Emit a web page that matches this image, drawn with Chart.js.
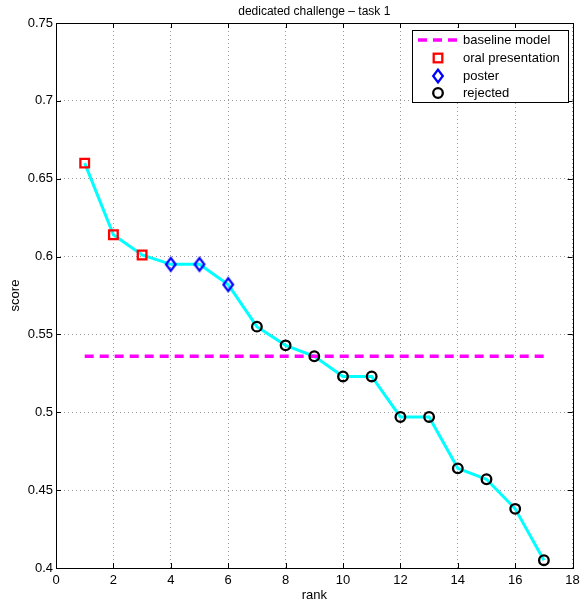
<!DOCTYPE html>
<html>
<head>
<meta charset="utf-8">
<script src="https://cdn.jsdelivr.net/npm/chart.js@4"></script>
<style>
  html, body { margin: 0; padding: 0; background: #fff; }
  canvas { display: block; }
</style>
</head>
<body>
<canvas id="rankChart" width="581" height="603"></canvas>
<script>
// values
const ranks = [1, 2, 3, 4, 5, 6, 7, 8, 9, 10, 11, 12, 13, 14, 15, 16, 17];
const scores = [0.660, 0.614, 0.601, 0.595, 0.595, 0.582, 0.555, 0.543, 0.536,
                0.523, 0.523, 0.497, 0.497, 0.464, 0.457, 0.438, 0.405];
const baselineScore = 0.536;
const oralRanks = [1, 2, 3];
const posterRanks = [4, 5, 6];
const rejectedRanks = [7, 8, 9, 10, 11, 12, 13, 14, 15, 16, 17];
const xTicks = [0, 2, 4, 6, 8, 10, 12, 14, 16, 18];
const yTicks = [0.4, 0.45, 0.5, 0.55, 0.6, 0.65, 0.7, 0.75];
const legendLabels = ['baseline model', 'oral presentation', 'poster', 'rejected'];

const FONT = '"Liberation Sans", Arial, Helvetica, sans-serif';

function pointsFor(list) {
  return list.map(r => ({ x: r, y: scores[ranks.indexOf(r)] }));
}

// matlab style diamond (a bit taller than wide)
function makeDiamond() {
  const c = document.createElement('canvas');
  c.width = 16;
  c.height = 20;
  const g = c.getContext('2d');
  g.strokeStyle = '#0000ff';
  g.lineWidth = 2.3;
  g.beginPath();
  g.moveTo(8, 3.6);
  g.lineTo(12.8, 10);
  g.lineTo(8, 16.4);
  g.lineTo(3.2, 10);
  g.closePath();
  g.stroke();
  return c;
}
const diamond = makeDiamond();

// box round the plot with inward tick marks
const axesBox = {
  id: 'axesBox',
  afterDatasetsDraw(chart) {
    const { ctx, chartArea: a, scales: { x, y } } = chart;
    ctx.save();
    ctx.strokeStyle = '#000';
    ctx.lineWidth = 1;
    ctx.beginPath();
    xTicks.forEach(v => {
      const px = Math.round(x.getPixelForValue(v)) + 0.5;
      ctx.moveTo(px, a.bottom); ctx.lineTo(px, a.bottom - 5);
      ctx.moveTo(px, a.top); ctx.lineTo(px, a.top + 5);
    });
    yTicks.forEach(v => {
      const py = Math.round(y.getPixelForValue(v)) + 0.5;
      ctx.moveTo(a.left, py); ctx.lineTo(a.left + 5, py);
      ctx.moveTo(a.right, py); ctx.lineTo(a.right - 5, py);
    });
    ctx.stroke();
    ctx.strokeRect(Math.round(a.left) + 0.5, Math.round(a.top) + 0.5,
                   Math.round(a.right - a.left), Math.round(a.bottom - a.top));
    ctx.restore();
  }
};

// legend box inside the top right corner
const legendBox = {
  id: 'legendBox',
  afterDraw(chart) {
    const { ctx, chartArea: a } = chart;
    const x0 = Math.round(a.right) - 161, y0 = Math.round(a.top) + 7;
    const w = 156, h = 72;
    ctx.save();
    ctx.fillStyle = '#fff';
    ctx.fillRect(x0, y0, w, h);
    ctx.strokeStyle = '#000';
    ctx.lineWidth = 1;
    ctx.strokeRect(x0 + 0.5, y0 + 0.5, w, h);

    const rows = [10, 28, 46, 63].map(d => y0 + d);
    const mx = x0 + 26;

    // baseline
    ctx.strokeStyle = '#ff00ff';
    ctx.lineWidth = 3.5;
    ctx.setLineDash([9, 6]);
    ctx.beginPath();
    ctx.moveTo(x0 + 6, rows[0]);
    ctx.lineTo(x0 + 48, rows[0]);
    ctx.stroke();
    ctx.setLineDash([]);

    // square
    ctx.strokeStyle = '#ff0000';
    ctx.lineWidth = 2.3;
    ctx.strokeRect(mx - 4.3, rows[1] - 4.3, 8.6, 8.6);

    // diamond
    ctx.drawImage(diamond, mx - 8, rows[2] - 10);

    // circle
    ctx.strokeStyle = '#000';
    ctx.beginPath();
    ctx.arc(mx, rows[3], 4.8, 0, Math.PI * 2);
    ctx.stroke();

    ctx.fillStyle = '#000';
    ctx.font = '13px ' + FONT;
    ctx.textBaseline = 'middle';
    legendLabels.forEach((t, i) => ctx.fillText(t, x0 + 51, rows[i]));
    ctx.restore();
  }
};

const ctx = document.getElementById('rankChart').getContext('2d');
new Chart(ctx, {
  type: 'scatter',
  data: {
    datasets: [
      {
        label: 'ranking',
        data: ranks.map((r, i) => ({ x: r, y: scores[i] })),
        showLine: true,
        borderColor: '#00ffff',
        borderWidth: 3,
        pointRadius: 0,
        order: 3
      },
      {
        label: legendLabels[0],
        data: [{ x: ranks[0], y: baselineScore }, { x: ranks[ranks.length - 1], y: baselineScore }],
        showLine: true,
        borderColor: '#ff00ff',
        borderWidth: 3.5,
        borderDash: [9, 6],
        pointRadius: 0,
        order: 2
      },
      {
        label: legendLabels[1],
        data: pointsFor(oralRanks),
        pointStyle: 'rect',
        pointRadius: 6.1,
        pointBorderWidth: 2.3,
        pointBorderColor: '#ff0000',
        pointBackgroundColor: 'rgba(0,0,0,0)',
        order: 1
      },
      {
        label: legendLabels[2],
        data: pointsFor(posterRanks),
        pointStyle: diamond,
        order: 1
      },
      {
        label: legendLabels[3],
        data: pointsFor(rejectedRanks),
        pointStyle: 'circle',
        pointRadius: 4.8,
        pointBorderWidth: 2.3,
        pointBorderColor: '#000000',
        pointBackgroundColor: 'rgba(0,0,0,0)',
        order: 1
      }
    ]
  },
  options: {
    responsive: false,
    animation: false,
    events: [],
    devicePixelRatio: 1,
    layout: { padding: { right: 8 } },
    plugins: {
      legend: { display: false },
      tooltip: { enabled: false },
      title: {
        display: true,
        fullSize: false,
        text: 'dedicated challenge \u2013 task 1',
        color: '#000',
        font: { family: FONT, size: 12, weight: 'normal' },
        padding: { top: 4, bottom: 4.6 }
      }
    },
    scales: {
      x: {
        type: 'linear',
        min: 0,
        max: 18,
        afterBuildTicks: s => { s.ticks = xTicks.map(v => ({ value: v })); },
        afterFit: s => { s.height = 35; s.paddingLeft = 0; s.paddingRight = 0; },
        ticks: {
          autoSkip: false,
          maxRotation: 0,
          padding: 5,
          color: '#000',
          font: { family: FONT, size: 13 },
          callback: v => String(v)
        },
        grid: { color: '#999', lineWidth: 1, drawTicks: false },
        border: { display: false, dash: [1, 3] },
        title: {
          display: true,
          text: 'rank',
          color: '#000',
          font: { family: FONT, size: 13 },
          padding: { top: 0, bottom: 0 }
        }
      },
      y: {
        type: 'linear',
        min: 0.4,
        max: 0.75,
        afterBuildTicks: s => { s.ticks = yTicks.map(v => ({ value: v })); },
        afterFit: s => { s.width = 56; s.paddingTop = 0; s.paddingBottom = 0; },
        ticks: {
          autoSkip: false,
          padding: 3,
          color: '#000',
          font: { family: FONT, size: 13 },
          callback: v => String(v)
        },
        grid: { color: '#999', lineWidth: 1, drawTicks: false },
        border: { display: false, dash: [1, 3] },
        title: {
          display: true,
          text: 'score',
          color: '#000',
          font: { family: FONT, size: 13 },
          padding: { top: 8, bottom: 0 }
        }
      }
    }
  },
  plugins: [axesBox, legendBox]
});
</script>
</body>
</html>
